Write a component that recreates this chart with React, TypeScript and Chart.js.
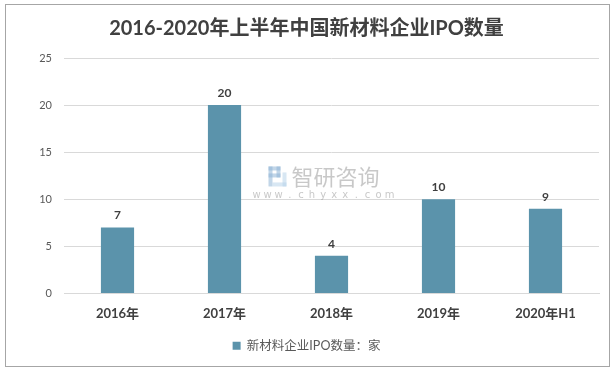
import React, { useEffect, useRef } from "react";
import { Chart, registerables } from "chart.js";

Chart.register(...registerables);

const categories = ["2016年", "2017年", "2018年", "2019年", "2020年H1"];
const ipoCounts = [7, 20, 4, 10, 9];
const seriesName = "新材料企业IPO数量：家";
const titleText = "2016-2020年上半年中国新材料企业IPO数量";
const watermarkMain = "智研咨询";
const watermarkSub = "www.chyxx.com";

const FONT = "Lato, 'Noto Sans CJK SC', sans-serif";
const BAR_COLOR = "#5B93AB";

const dataLabelPlugin = {
  id: "dataLabels",
  afterDatasetsDraw(chart: any) {
    const ctx = chart.ctx;
    const meta = chart.getDatasetMeta(0);
    ctx.save();
    ctx.font = `bold 12px ${FONT}`;
    ctx.fillStyle = "#404040";
    ctx.textAlign = "center";
    ctx.textBaseline = "bottom";
    meta.data.forEach((el: any, i: number) => {
      ctx.fillText(String(chart.data.datasets[0].data[i]), el.x, el.y - 6);
    });
    ctx.restore();
  },
};

const watermarkPlugin = {
  id: "watermark",
  afterDraw(chart: any) {
    const ctx = chart.ctx;
    const ca = chart.chartArea;
    const cx = (ca.left + ca.right) / 2 + 6;
    const cy = ca.top + (ca.bottom - ca.top) * 0.52;
    ctx.save();
    ctx.globalAlpha = 0.55;
    ctx.fillStyle = "#8fb4d6";
    ctx.fillRect(cx - 69, cy - 14, 4, 20);
    ctx.fillRect(cx - 69, cy - 14, 12, 4);
    ctx.fillRect(cx - 61, cy - 14, 4, 11);
    ctx.fillRect(cx - 69, cy - 7, 12, 4);
    ctx.fillStyle = "#b8d3ea";
    ctx.fillRect(cx - 55, cy - 8, 4, 14);
    ctx.fillRect(cx - 65, cy + 2, 14, 4);
    ctx.fillStyle = "#9a9a9a";
    ctx.font = `22px 'Noto Sans CJK SC', sans-serif`;
    ctx.textAlign = "left";
    ctx.textBaseline = "middle";
    ctx.fillText(watermarkMain, cx - 46, cy - 4);
    ctx.font = `10px 'DejaVu Sans', sans-serif`;
    const chars = watermarkSub.split("");
    const startX = cx - 81;
    const step = 11.1;
    chars.forEach((c, i) => {
      ctx.textAlign = "center";
      ctx.fillText(c, startX + i * step, cy + 15);
    });
    ctx.restore();
  },
};

export default function App() {
  const ref = useRef<HTMLCanvasElement>(null);
  useEffect(() => {
    if (!ref.current) return;
    const chart = new Chart(ref.current, {
      type: "bar",
      data: {
        labels: categories,
        datasets: [
          {
            label: seriesName,
            data: ipoCounts,
            backgroundColor: BAR_COLOR,
            borderWidth: 0,
            barPercentage: 0.31,
            categoryPercentage: 1,
          },
        ],
      },
      options: {
        animation: false,
        responsive: false,
        maintainAspectRatio: false,
        layout: { padding: { left: 0, right: 0, top: 0, bottom: 11 } },
        plugins: {
          title: {
            display: true,
            text: titleText,
            color: "#404040",
            font: { family: FONT, size: 20, weight: "bold" },
            padding: { top: 17, bottom: 17 },
          },
          legend: {
            display: true,
            position: "bottom",
            labels: {
              color: "#595959",
              font: { family: FONT, size: 12.5 },
              boxWidth: 8,
              boxHeight: 8,
              padding: 10,
              usePointStyle: false,
            },
          },
          tooltip: { enabled: false },
        },
        scales: {
          x: {
            grid: { display: false, drawTicks: false },
            border: { display: true, color: "#d9d9d9" },
            ticks: {
              color: "#404040",
              font: { family: FONT, size: 13, weight: "bold" },
              padding: 13,
            },
            afterFit(scale: any) {
              scale.height = 36;
            },
          },
          y: {
            min: 0,
            max: 25,
            ticks: {
              stepSize: 5,
              color: "#595959",
              font: { family: FONT, size: 11 },
              padding: 12,
            },
            grid: { color: "#d9d9d9", drawTicks: false },
            border: { display: false },
            afterFit(scale: any) {
              scale.width = 64;
            },
          },
          spacer: {
            type: "linear",
            position: "right",
            display: true,
            grid: { display: false, drawTicks: false },
            border: { display: false },
            ticks: { display: false },
            afterFit(scale: any) {
              scale.width = 14;
            },
          },
        },
      },
      plugins: [dataLabelPlugin, watermarkPlugin],
    });
    return () => chart.destroy();
  }, []);

  return (
    <div style={{ position: "absolute", left: 0, top: 0, width: 613, height: 373, background: "#fff" }}>
      <canvas ref={ref} width={613} height={373} style={{ position: "absolute", left: 0, top: 0 }} />
      <div
        style={{
          position: "absolute",
          left: 5,
          top: 4,
          width: 605,
          height: 363,
          boxSizing: "border-box",
          border: "1.5px solid #a6a6a6",
          pointerEvents: "none",
        }}
      />
    </div>
  );
}
